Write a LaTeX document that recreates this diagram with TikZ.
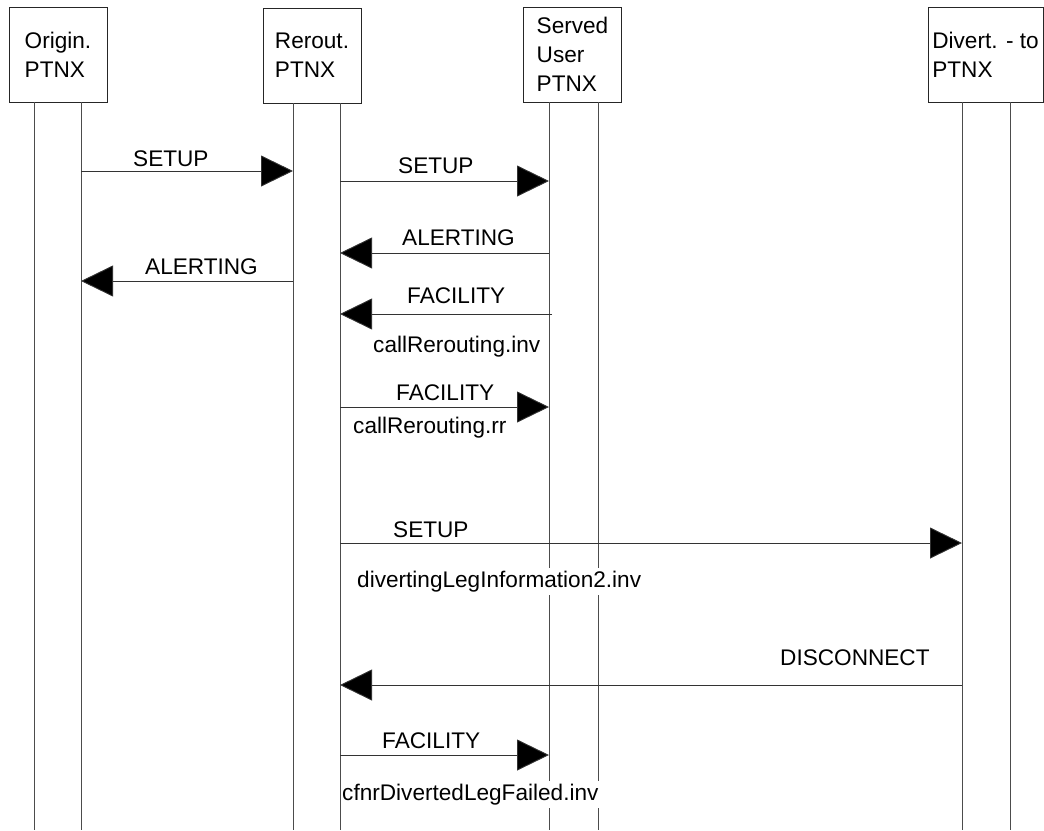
\documentclass[tikz,border=0pt]{standalone}
\usepackage{fontspec}
\setmainfont{Liberation Sans}
\usetikzlibrary{arrows.meta}
\newcommand{\msgfont}{\fontsize{22.6}{29}\selectfont}
\begin{document}
\begin{tikzpicture}[x=1pt,y=-1pt,
  entity/.style={draw=black!85, line width=0.9pt, fill=white, align=left,
    inner sep=0pt, minimum height=95pt, font=\msgfont},
  lifeline/.style={draw=black!70, line width=0.9pt},
  msg/.style={draw=black!80, line width=0.9pt,
    -{Triangle[length=32pt,width=31pt,fill=black]}},
  lbl/.style={font=\msgfont, fill=white, inner xsep=1pt, inner ysep=3pt,
    anchor=base west, text=black}]
\useasboundingbox (0,0) rectangle (1044,830);

% entity boxes
\node[entity, minimum width=98pt]  (orig) at (58,54.5)    {Origin.\\PTNX};
\node[entity, minimum width=98pt]  (rer)  at (312,55.5)   {Rerout.\\PTNX};
\node[entity, minimum width=98pt]  (serv) at (572.5,54.5) {Served\\User\\PTNX};
\node[entity, minimum width=115pt] (div)  at (985.5,54.5) {Divert. - to\\PTNX};

% lifeline feet
\coordinate (oA) at (34,830);  \coordinate (oB) at (81,830);
\coordinate (rA) at (293,830); \coordinate (rB) at (340,830);
\coordinate (sA) at (549,830); \coordinate (sB) at (598,830);
\coordinate (dA) at (962,830); \coordinate (dB) at (1010,830);

% lifelines
\foreach \e/\p in {orig/oA, orig/oB, rer/rA, rer/rB, serv/sA, serv/sB, div/dA, div/dB}
  \draw[lifeline] (\p |- \e.south) -- (\p);

% message labels
\node[lbl] (l1)  at (132,166) {SETUP};
\node[lbl] (l2)  at (397,173) {SETUP};
\node[lbl] (l3)  at (401,245) {ALERTING};
\node[lbl] (l4)  at (144,274) {ALERTING};
\node[lbl] (l5)  at (406,303) {FACILITY};
\node[lbl] (l6)  at (372,352) {callRerouting.inv};
\node[lbl] (l7)  at (395,400) {FACILITY};
\node[lbl] (l8)  at (352,433) {callRerouting.rr};
\node[lbl] (l9)  at (392,537) {SETUP};
\node[lbl] (l10) at (356,587) {divertingLegInformation2.inv};
\node[lbl] (l11) at (779,665) {DISCONNECT};
\node[lbl] (l12) at (381,748) {FACILITY};
\node[lbl] (l13) at (341,800) {cfnrDivertedLegFailed.inv};

% messages
\draw[msg] (oB |- 0,171) -- (rA |- 0,171);
\draw[msg] (rB |- 0,181) -- (sA |- 0,181);
\draw[msg] (sA |- 0,253) -- (rB |- 0,253);
\draw[msg] (rA |- 0,281) -- (oB |- 0,281);
\draw[msg] ([xshift=3pt]sA |- 0,314) -- (rB |- 0,314);
\draw[msg] (rB |- 0,407) -- (sA |- 0,407);
\draw[msg] (rB |- 0,543) -- (dA |- 0,543);
\draw[msg] (dA |- 0,685) -- (rB |- 0,685);
\draw[msg] (rB |- 0,755) -- (sA |- 0,755);
\end{tikzpicture}
\end{document}
